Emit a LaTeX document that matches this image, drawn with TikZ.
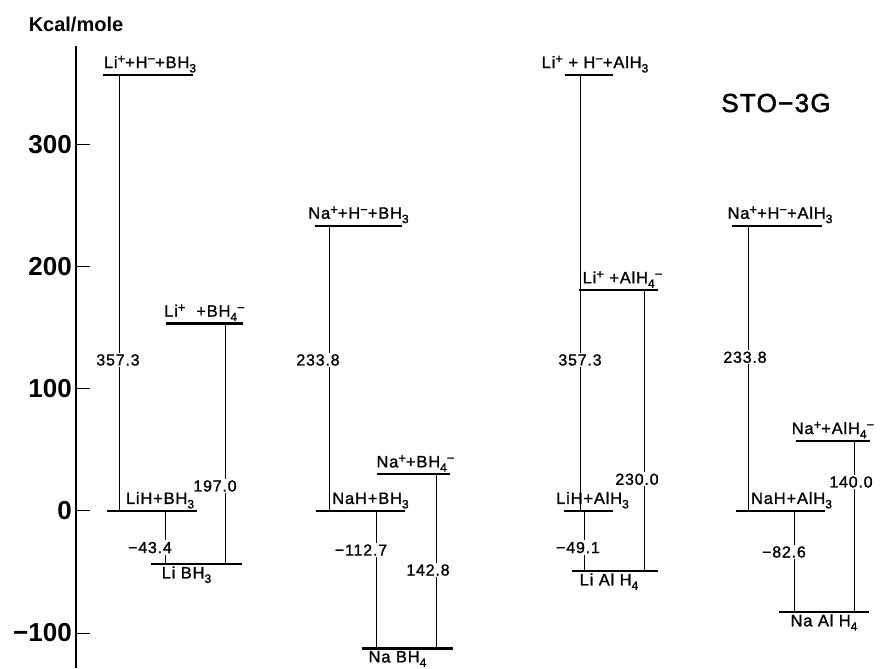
\documentclass[tikz,border=0pt]{standalone}
\usepackage{fontspec}
\setmainfont{Liberation Sans}
\newfontfamily\spacedfont[LetterSpace=5,FakeBold=1.2]{Liberation Sans}
\newfontfamily\titlefont[LetterSpace=5,FakeBold=2]{Liberation Sans}
\newcommand\chup[1]{\raisebox{0.55ex}{\fontsize{13}{13}\selectfont#1}}
\newcommand\chdn[1]{\raisebox{-0.5ex}{\fontsize{12}{12}\selectfont#1}}
\usetikzlibrary{positioning}
\tikzset{
  lvl/.style={fill=black,inner sep=0pt,minimum height=2.3pt,minimum width=#1},
  link/.style={draw=black,line width=0.8pt},
  species/.style={inner sep=1pt,font=\spacedfont\fontsize{16.5}{18}\selectfont},
  num/.style={fill=white,inner sep=1.5pt,font=\spacedfont\fontsize{16}{18}\selectfont},
  axisline/.style={line width=1.8pt},
  ticklabel/.style={anchor=east,inner sep=0pt,font=\bfseries\fontsize{26}{28}\selectfont}
}

\begin{document}
\begin{tikzpicture}[x=1pt,y=1.22pt]
  \useasboundingbox (0,-128.7) rectangle (884,418.85);
  % energy axis
  \draw[axisline] (76,381) -- (76,-128.7);
  \foreach \v/\t in {-100/−100,0/0,100/100,200/200,300/300} {
    \draw[line width=1pt] (76,\v) -- (90,\v);
    \node[ticklabel] at (72,\v) {\t};
  }
  \node[font=\bfseries\fontsize{20}{22}\selectfont] (unit) at (76,398.4) {Kcal/mole};
  \node[font=\titlefont\fontsize{26}{28}\selectfont] (basis) at (776,334.4) {STO−3G};

  % LiBH4
  \node[lvl=90pt] (lbh-ion) at (148,357.3) {};
  \node[lvl=90pt] (lbh-mol) at (152,0) {};
  \node[lvl=91pt] (libh3) at (196.5,-43.4) {};
  \node[lvl=77pt] (lbh-pair) at (204.5,153.6) {};
  \node[species,above=0pt of lbh-ion,xshift=2pt] (t-lbh-ion) {Li\chup{+}+H\chup{−}+BH\chdn{3}};
  \node[species,above=0pt of lbh-mol,xshift=8pt] (t-lbh-mol) {LiH+BH\chdn{3}};
  \node[species,below=0pt of libh3,xshift=-10pt] (t-libh3) {Li BH\chdn{3}};
  \node[species,above=0pt of lbh-pair] (t-lbh-pair) {Li\chup{+}\ \ +BH\chdn{4}\chup{−}};
  \draw[link] (119,0 |- lbh-ion) -- (119,0 |- lbh-mol);
  \draw[link] (165,0 |- lbh-mol) -- (165,0 |- libh3);
  \draw[link] (225,0 |- lbh-pair) -- (225,0 |- libh3);
  \node[num] (e-lbh-ion) at (118,123.8) {357.3};
  \node[num] (e-libh3) at (150,-30) {−43.4};
  \node[num] (e-lbh-pair) at (215,20.5) {197.0};

  % NaBH4
  \node[lvl=87pt] (nbh-ion) at (358.5,233.8) {};
  \node[lvl=89pt] (nbh-mol) at (360.5,0) {};
  \node[lvl=91pt] (nabh4) at (407.5,-112.7) {};
  \node[lvl=73pt] (nbh-pair) at (413.5,30.1) {};
  \node[species,above=0pt of nbh-ion] (t-nbh-ion) {Na\chup{+}+H\chup{−}+BH\chdn{3}};
  \node[species,above=0pt of nbh-mol,xshift=10pt] (t-nbh-mol) {NaH+BH\chdn{3}};
  \node[species,below=0pt of nabh4,xshift=-10pt] (t-nabh4) {Na BH\chdn{4}};
  \node[species,above=0pt of nbh-pair,xshift=2pt] (t-nbh-pair) {Na\chup{+}+BH\chdn{4}\chup{−}};
  \draw[link] (329,0 |- nbh-ion) -- (329,0 |- nbh-mol);
  \draw[link] (376,0 |- nbh-mol) -- (376,0 |- nabh4);
  \draw[link] (436,0 |- nbh-pair) -- (436,0 |- nabh4);
  \node[num] (e-nbh-ion) at (318,123.8) {233.8};
  \node[num] (e-nabh4) at (361,-32) {−112.7};
  \node[num] (e-nbh-pair) at (428,-48.4) {142.8};

  % LiAlH4
  \node[lvl=48pt] (lal-ion) at (589,357.3) {};
  \node[lvl=49pt] (lal-mol) at (588.5,0) {};
  \node[lvl=86pt] (lialh4) at (615,-49.1) {};
  \node[lvl=79pt] (lal-pair) at (618.5,180.9) {};
  \node[species,above=0pt of lal-ion,xshift=6pt] (t-lal-ion) {Li\chup{+} + H\chup{−}+AlH\chdn{3}};
  \node[species,above=0pt of lal-mol,xshift=4pt] (t-lal-mol) {LiH+AlH\chdn{3}};
  \node[species,below=0pt of lialh4,xshift=-6pt] (t-lialh4) {Li Al H\chdn{4}};
  \node[species,above=0pt of lal-pair,xshift=4pt] (t-lal-pair) {Li\chup{+} +AlH\chdn{4}\chup{−}};
  \draw[link] (580,0 |- lal-ion) -- (580,0 |- lal-mol);
  \draw[link] (584,0 |- lal-mol) -- (584,0 |- lialh4);
  \draw[link] (644,0 |- lal-pair) -- (644,0 |- lialh4);
  \node[num] (e-lal-ion) at (580,123.8) {357.3};
  \node[num] (e-lialh4) at (578,-30) {−49.1};
  \node[num] (e-lal-pair) at (637,26) {230.0};

  % NaAlH4
  \node[lvl=90pt] (nal-ion) at (777,233.8) {};
  \node[lvl=89pt] (nal-mol) at (780.5,0) {};
  \node[lvl=90pt] (naalh4) at (824,-82.6) {};
  \node[lvl=74pt] (nal-pair) at (833,57.4) {};
  \node[species,above=0pt of nal-ion,xshift=3pt] (t-nal-ion) {Na\chup{+}+H\chup{−}+AlH\chdn{3}};
  \node[species,above=0pt of nal-mol,xshift=11pt] (t-nal-mol) {NaH+AlH\chdn{3}};
  \node[species,below=0pt of naalh4] (t-naalh4) {Na Al H\chdn{4}};
  \node[species,above=0pt of nal-pair] (t-nal-pair) {Na\chup{+}+AlH\chdn{4}\chup{−}};
  \draw[link] (748,0 |- nal-ion) -- (748,0 |- nal-mol);
  \draw[link] (794,0 |- nal-mol) -- (794,0 |- naalh4);
  \draw[link] (854,0 |- nal-pair) -- (854,0 |- naalh4);
  \node[num] (e-nal-ion) at (745,126) {233.8};
  \node[num] (e-naalh4) at (784,-33.6) {−82.6};
  \node[num] (e-nal-pair) at (851,23.8) {140.0};
\end{tikzpicture}
\end{document}
